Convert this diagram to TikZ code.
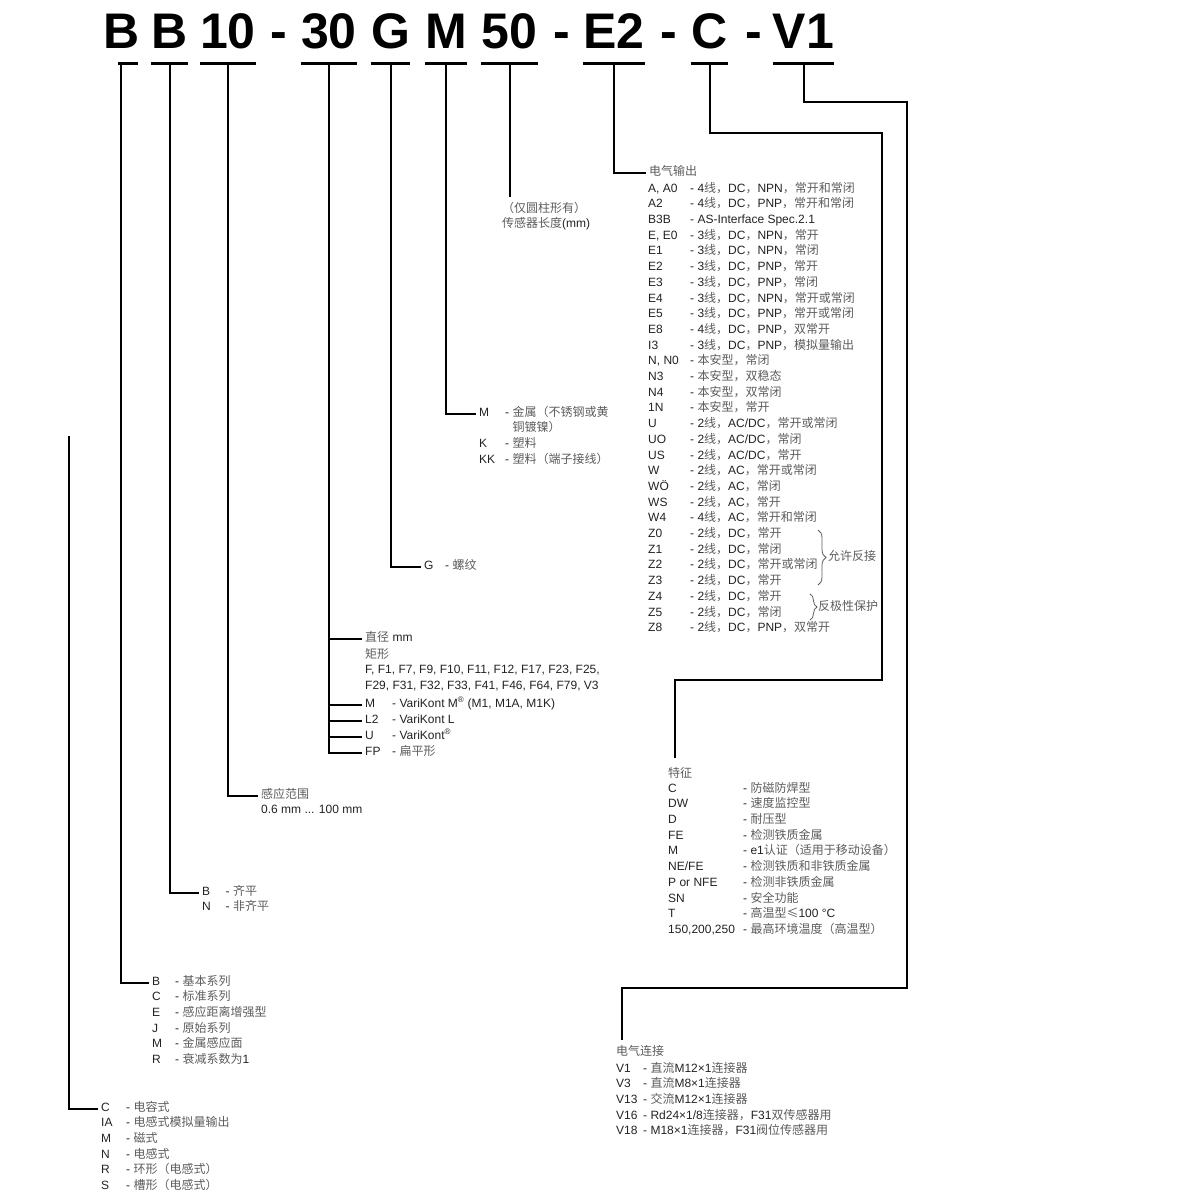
\documentclass[tikz,border=0pt]{standalone}
\usepackage{fontspec}
\setmainfont{Liberation Sans}
\newfontfamily\cjkfont{Noto Sans CJK SC}
\usetikzlibrary{decorations.pathreplacing}

\definecolor{txt}{HTML}{222222}
\definecolor{cjk}{HTML}{5C5C5C}
\newcommand{\zh}[1]{{\cjkfont\color{cjk}#1}}
\newcommand{\lstfont}{\fontsize{12}{15.7}\selectfont}

\tikzset{
  codechar/.style={font=\bfseries\fontsize{50}{50}\selectfont, inner sep=0pt, anchor=base},
  uline/.style={line width=3pt},
  conn/.style={line width=2pt},
  lst/.style={anchor=mid west, inner xsep=3pt, inner ysep=0pt, text=txt, font=\lstfont},
  grp/.style={decorate, decoration={brace, amplitude=#1}, line width=0.8pt, draw=cjk},
}

\begin{document}
\begin{tikzpicture}[x=1pt, y=-1pt]
  \useasboundingbox (0,0) rectangle (1200,1200);

  % Type code
  \node[codechar] (cB1) at (122,48) {B};
  \node[codechar] (cB2) at (169.5,48) {B};
  \node[codechar] (c10) at (228,48) {10};
  \node[codechar] (d1) at (279,48) {-};
  \node[codechar] (c30) at (329,48) {30};
  \node[codechar] (cG) at (390.5,48) {G};
  \node[codechar] (cM) at (446,48) {M};
  \node[codechar] (c50) at (509.5,48) {50};
  \node[codechar] (d2) at (561.5,48) {-};
  \node[codechar] (cE2) at (614,48) {E2};
  \node[codechar] (d3) at (668.5,48) {-};
  \node[codechar] (cC) at (709.5,48) {C};
  \node[codechar] (d4) at (753.5,48) {-};
  \node[codechar] (cV1) at (803.5,48) {V1};

  % Coordinates
  \coordinate (uB1) at (120.5,63);
  \coordinate (uB2) at ([yshift=-15pt]cB2.base);
  \coordinate (u10) at ([yshift=-15pt]c10.base);
  \coordinate (u30) at ([yshift=-15pt]c30.base);
  \coordinate (uG) at ([yshift=-15pt]cG.base);
  \coordinate (uM) at ([yshift=-15pt]cM.base);
  \coordinate (u50) at ([yshift=-15pt]c50.base);
  \coordinate (uE2) at ([yshift=-15pt]cE2.base);
  \coordinate (uC) at ([yshift=-15pt]cC.base);
  \coordinate (uV1) at ([yshift=-15pt]cV1.base);
  \coordinate (L0) at (69,436);
  \coordinate (T50) at (509.5,197);
  \coordinate (kC1) at (882,133);
  \coordinate (kC2) at (675,680);
  \coordinate (kC3) at (675,758);
  \coordinate (kV1) at (907,102);
  \coordinate (kV2) at (622,988);
  \coordinate (kV3) at (622,1040);

  % Underlines
  \draw[uline] (118,63) -- (138,63);
  \draw[uline] ([yshift=-15pt]cB2.base west) -- ([yshift=-15pt]cB2.base east);
  \draw[uline] ([yshift=-15pt]c10.base west) -- ([yshift=-15pt]c10.base east);
  \draw[uline] ([yshift=-15pt]c30.base west) -- ([yshift=-15pt]c30.base east);
  \draw[uline] ([yshift=-15pt]cG.base west) -- ([yshift=-15pt]cG.base east);
  \draw[uline] ([yshift=-15pt]cM.base west) -- ([yshift=-15pt]cM.base east);
  \draw[uline] ([yshift=-15pt]c50.base west) -- ([yshift=-15pt]c50.base east);
  \draw[uline] ([yshift=-15pt]cE2.base west) -- ([yshift=-15pt]cE2.base east);
  \draw[uline] ([yshift=-15pt]cC.base west) -- ([yshift=-15pt]cC.base east);
  \draw[uline] ([yshift=-15pt]cV1.base west) -- ([yshift=-15pt]cV1.base east);

  % Option lists
  \node[lst] (lA) at (98,1108.5) {\begin{tabular}[t]{@{}p{25pt}@{}l@{}}
    C & - \zh{电容式}\\
    IA & - \zh{电感式模拟量输出}\\
    M & - \zh{磁式}\\
    N & - \zh{电感式}\\
    R & - \zh{环形（电感式）}\\
    S & - \zh{槽形（电感式）}
  \end{tabular}};
  \node[lst] (lB) at (149,982.5) {\begin{tabular}[t]{@{}p{23pt}@{}l@{}}
    B & - \zh{基本系列}\\
    C & - \zh{标准系列}\\
    E & - \zh{感应距离增强型}\\
    J & - \zh{原始系列}\\
    M & - \zh{金属感应面}\\
    R & - \zh{衰减系数为}1
  \end{tabular}};
  \node[lst] (lC) at (199,892.5) {\begin{tabular}[t]{@{}p{23.5pt}@{}l@{}}
    B & - \zh{齐平}\\
    N & - \zh{非齐平}
  \end{tabular}};
  \node[lst] (lD) at (258,795.5) {\begin{tabular}[t]{@{}l@{}}
    \zh{感应范围}\\
    0.6 mm ... 100 mm
  \end{tabular}};
  \node[lst] (e1) at (362,638.5) {\zh{直径} mm};
  \node[lst] (e2) at (362,655.5) {\begin{tabular}[t]{@{}l@{}}
    \zh{矩形}\\
    F, F1, F7, F9, F10, F11, F12, F17, F23, F25,\\
    F29, F31, F32, F33, F41, F46, F64, F79, V3
  \end{tabular}};
  \node[lst] (e3) at (362,704.5) {\makebox[27pt][l]{M}- VariKont M\textsuperscript{®} (M1, M1A, M1K)};
  \node[lst] (e4) at (362,720.5) {\makebox[27pt][l]{L2}- VariKont L};
  \node[lst] (e5) at (362,736.5) {\makebox[27pt][l]{U}- VariKont\textsuperscript{®}};
  \node[lst] (e6) at (362,752.5) {\makebox[27pt][l]{FP}- \zh{扁平形}};
  \node[lst] (lF) at (421,566.5) {\makebox[21pt][l]{G}- \zh{螺纹}};
  \node[lst] (lG) at (476,413.5) {\begin{tabular}[t]{@{}p{26pt}@{}l@{}}
    M & - \zh{金属（不锈钢或黄}\\
     & \phantom{- }\zh{铜镀镍）}\\
    K & - \zh{塑料}\\
    KK & - \zh{塑料（端子接线）}
  \end{tabular}};
  \node[lst] (l50) at (499,209.5) {\begin{tabular}[t]{@{}l@{}}
    \zh{（仅圆柱形有）}\\
    \zh{传感器长度}(mm)
  \end{tabular}};
  \node[lst] (hI) at (646,172.5) {\zh{电气输出}};
  \node[lst] (lI) at (645,189.5) {\begin{tabular}[t]{@{}p{42pt}@{}l@{}}
    A, A0 & - 4\zh{线，}DC\zh{，}NPN\zh{，常开和常闭}\\
    A2 & - 4\zh{线，}DC\zh{，}PNP\zh{，常开和常闭}\\
    B3B & - AS-Interface Spec.2.1\\
    E, E0 & - 3\zh{线，}DC\zh{，}NPN\zh{，常开}\\
    E1 & - 3\zh{线，}DC\zh{，}NPN\zh{，常闭}\\
    E2 & - 3\zh{线，}DC\zh{，}PNP\zh{，常开}\\
    E3 & - 3\zh{线，}DC\zh{，}PNP\zh{，常闭}\\
    E4 & - 3\zh{线，}DC\zh{，}NPN\zh{，常开或常闭}\\
    E5 & - 3\zh{线，}DC\zh{，}PNP\zh{，常开或常闭}\\
    E8 & - 4\zh{线，}DC\zh{，}PNP\zh{，双常开}\\
    I3 & - 3\zh{线，}DC\zh{，}PNP\zh{，模拟量输出}\\
    N, N0 & - \zh{本安型，常闭}\\
    N3 & - \zh{本安型，双稳态}\\
    N4 & - \zh{本安型，双常闭}\\
    1N & - \zh{本安型，常开}\\
    U & - 2\zh{线，}AC/DC\zh{，常开或常闭}\\
    UO & - 2\zh{线，}AC/DC\zh{，常闭}\\
    US & - 2\zh{线，}AC/DC\zh{，常开}\\
    W & - 2\zh{线，}AC\zh{，常开或常闭}\\
    WÖ & - 2\zh{线，}AC\zh{，常闭}\\
    WS & - 2\zh{线，}AC\zh{，常开}\\
    W4 & - 4\zh{线，}AC\zh{，常开和常闭}\\
    Z0 & - 2\zh{线，}DC\zh{，常开}\\
    Z1 & - 2\zh{线，}DC\zh{，常闭}\\
    Z2 & - 2\zh{线，}DC\zh{，常开或常闭}\\
    Z3 & - 2\zh{线，}DC\zh{，常开}\\
    Z4 & - 2\zh{线，}DC\zh{，常开}\\
    Z5 & - 2\zh{线，}DC\zh{，常闭}\\
    Z8 & - 2\zh{线，}DC\zh{，}PNP\zh{，双常开}
  \end{tabular}};
  \draw[grp=8pt] (818,530) -- (818,585);
  \node[lst] (nZ) at (825,558) {\zh{允许反接}};
  \draw[grp=7pt] (810,594) -- (810,620);
  \node[lst] (nR) at (815,607.5) {\zh{反极性保护}};
  \node[lst] (hJ) at (665,774.5) {\zh{特征}};
  \node[lst] (lJ) at (665,789.5) {\begin{tabular}[t]{@{}p{75pt}@{}l@{}}
    C & - \zh{防磁防焊型}\\
    DW & - \zh{速度监控型}\\
    D & - \zh{耐压型}\\
    FE & - \zh{检测铁质金属}\\
    M & - e1\zh{认证（适用于移动设备）}\\
    NE/FE & - \zh{检测铁质和非铁质金属}\\
    P or NFE & - \zh{检测非铁质金属}\\
    SN & - \zh{安全功能}\\
    T & - \zh{高温型≤}100 °C\\
    150,200,250 & - \zh{最高环境温度（高温型）}
  \end{tabular}};
  \node[lst] (hK) at (613,1052.5) {\zh{电气连接}};
  \node[lst] (lK) at (613,1069.5) {\begin{tabular}[t]{@{}p{27pt}@{}l@{}}
    V1 & - \zh{直流}M12×1\zh{连接器}\\
    V3 & - \zh{直流}M8×1\zh{连接器}\\
    V13 & - \zh{交流}M12×1\zh{连接器}\\
    V16 & - Rd24×1/8\zh{连接器，}F31\zh{双传感器用}\\
    V18 & - M18×1\zh{连接器，}F31\zh{阀位传感器用}
  \end{tabular}};

  % Connectors
  \draw[conn] (L0) |- (lA.mid west);
  \draw[conn] (uB1) |- (lB.mid west);
  \draw[conn] (uB2) |- (lC.mid west);
  \draw[conn] (u10) |- (lD.mid west);
  \draw[conn] (u30) |- (e6.mid west);
  \draw[conn] (u30 |- e1.mid west) -- (e1.mid west);
  \draw[conn] (u30 |- e3.mid west) -- (e3.mid west);
  \draw[conn] (u30 |- e4.mid west) -- (e4.mid west);
  \draw[conn] (u30 |- e5.mid west) -- (e5.mid west);
  \draw[conn] (uG) |- (lF.mid west);
  \draw[conn] (uM) |- (lG.mid west);
  \draw[conn] (u50) -- (T50);
  \draw[conn] (uE2) |- (hI.mid west);
  \draw[conn] (uC) |- (kC1) |- (kC2) -- (kC3);
  \draw[conn] (uV1) |- (kV1) |- (kV2) -- (kV3);
\end{tikzpicture}
\end{document}
